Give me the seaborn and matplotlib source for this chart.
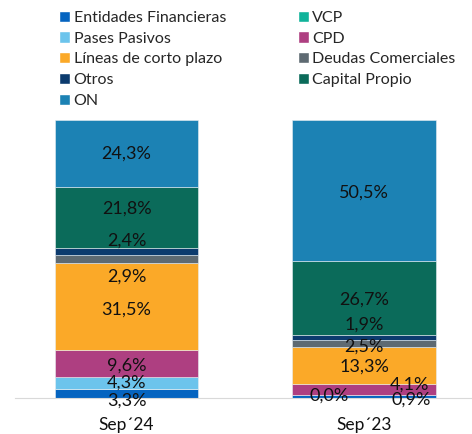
import pandas as pd
import matplotlib.pyplot as plt
import seaborn as sns
from matplotlib.patches import Patch

# --- datos ---
periodos = ["Sep´24", "Sep´23"]
categorias = ["Entidades Financieras", "VCP", "Pases Pasivos", "CPD",
              "Líneas de corto plazo", "Deudas Comerciales", "Otros",
              "Capital Propio", "ON"]
sep24 = [3.3, 0.0, 4.3, 9.6, 31.5, 2.9, 2.4, 21.8, 24.3]
sep23 = [0.9, 0.0, 0.0, 4.1, 13.3, 2.5, 1.9, 26.7, 50.5]
colores = ["#0564c0", "#10b39a", "#6cc4ec", "#ae3f81", "#fba928",
           "#5e6a72", "#0c3b6e", "#0b6b5a", "#1c82b4"]

# etiquetas que se muestran y su corrimiento (dx en barras, dy en %)
offsets = {
    (0, "Entidades Financieras"): (0, -2.7),
    (0, "Pases Pasivos"): (0, 0),
    (0, "CPD"): (0, -0.7),
    (0, "Líneas de corto plazo"): (0, -1.0),
    (0, "Deudas Comerciales"): (0, -6.5),
    (0, "Otros"): (0, 3.8),
    (0, "Capital Propio"): (0, 3.2),
    (0, "ON"): (0, 0),
    (1, "Entidades Financieras"): (0.2, -1.2),
    (1, "VCP"): (-0.147, 0),
    (1, "CPD"): (0.19, 2.0),
    (1, "Líneas de corto plazo"): (0, -0.4),
    (1, "Deudas Comerciales"): (0, -0.9),
    (1, "Otros"): (0, 4.7),
    (1, "Capital Propio"): (0, -0.8),
    (1, "ON"): (0, -0.9),
}

df = pd.DataFrame({"Sep´24": sep24, "Sep´23": sep23}, index=categorias)

sns.set_style("white")
plt.rcParams['font.family'] = ['Lato', 'DejaVu Sans']

fig = plt.figure(figsize=(4.72, 4.34), dpi=100)
ax = fig.add_axes([15 / 472, 36 / 434, 457 / 472, 278 / 434])

bottom = pd.Series([0.0, 0.0], index=periodos)
for cat, col in zip(categorias, colores):
    vals = df.loc[cat, periodos]
    sns.barplot(x=periodos, y=vals.values, bottom=bottom.values, color=col,
                saturation=1, width=0.603, edgecolor="#e8eef2", linewidth=0.4,
                ax=ax)
    for i, p in enumerate(periodos):
        if (i, cat) in offsets:
            dx, dy = offsets[(i, cat)]
            yc = bottom[p] + vals[p] / 2 + dy
            ax.text(i + dx, yc, f"{vals[p]:.1f}%".replace(".", ","),
                    ha="center", va="center", fontsize=13, color="#111111")
    bottom = bottom + vals

ax.set_xlim(-0.47, 1.455)
ax.set_ylim(0, 100)
ax.set_yticks([])
ax.set_ylabel("")
sns.despine(ax=ax, left=True)
ax.spines["bottom"].set_color("#d9d9d9")
ax.tick_params(axis="x", length=0, labelsize=12.5, pad=14, colors="#111111")

# leyenda en dos columnas, orden por filas
handles = [Patch(facecolor=c) for c in colores]
orden = [0, 2, 4, 6, 8, 1, 3, 5, 7]
fig.legend([handles[i] for i in orden], [categorias[i] for i in orden],
           ncol=2, loc="upper left", bbox_to_anchor=(0.112, 0.99),
           frameon=False, fontsize=11.5, handlelength=0.7, handleheight=0.7,
           handletextpad=0.2, columnspacing=4.5, labelspacing=0.41,
           borderaxespad=0)

fig.savefig("out.png", dpi=100)
